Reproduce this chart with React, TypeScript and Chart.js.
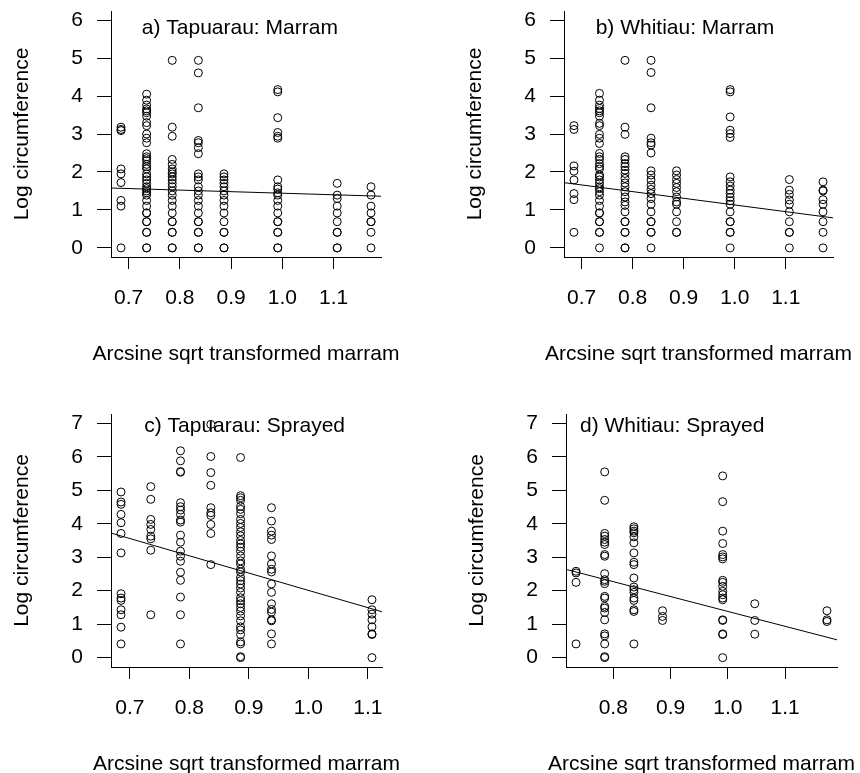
import { useEffect, useRef } from "react";
import { Chart, registerables } from "chart.js";

Chart.register(...registerables);

const FONT = "'Liberation Sans', Arial, Helvetica, sans-serif";
const FONT_SIZE = 21;

// ---- data -----------------------------------------------------------------
// x: arcsine-square-root transformed marram cover, one value per quadrat group
// y: log circumference of each plant in that group

const tapuarauMarramX = [0.685, 0.735, 0.785, 0.836, 0.886, 0.991, 1.107, 1.173];
const tapuarauMarramY = [
  [3.18, 3.12, 3.09, 2.08, 1.95, 1.72, 1.25, 1.1, 0],
  [4.05, 3.89, 3.76, 3.66, 3.61, 3.56, 3.47, 3.3, 3.22, 3.0, 2.89, 2.77, 2.48, 2.4, 2.35, 2.3, 2.2, 2.14, 2.08, 1.95, 1.87, 1.79, 1.7, 1.61, 1.56, 1.5, 1.45, 1.39, 1.25, 1.1, 0.92, 0.92, 0.69, 0.69, 0.41, 0.41, 0, 0],
  [4.94, 3.18, 2.94, 2.33, 2.2, 2.08, 2.0, 1.95, 1.87, 1.79, 1.7, 1.61, 1.5, 1.39, 1.25, 1.1, 0.92, 0.69, 0.69, 0.41, 0.41, 0, 0],
  [4.94, 4.61, 3.69, 2.83, 2.77, 2.64, 2.48, 1.95, 1.87, 1.79, 1.61, 1.5, 1.39, 1.25, 1.1, 0.92, 0.69, 0.69, 0.41, 0.41, 0, 0],
  [1.95, 1.87, 1.79, 1.7, 1.61, 1.5, 1.39, 1.25, 1.1, 0.92, 0.69, 0.41, 0.41, 0, 0],
  [4.17, 4.11, 3.43, 3.04, 2.94, 2.89, 1.79, 1.61, 1.55, 1.45, 1.39, 1.25, 1.1, 0.92, 0.69, 0.69, 0.41, 0.41, 0, 0],
  [1.7, 1.39, 1.3, 1.1, 0.92, 0.69, 0.41, 0.41, 0, 0],
  [1.61, 1.39, 1.1, 0.92, 0.69, 0.69, 0.41, 0],
];
const tapuarauMarramFit = { intercept: 1.85, slope: -0.41 };

const whitiauMarramX = [0.685, 0.735, 0.785, 0.836, 0.886, 0.991, 1.107, 1.173];
const whitiauMarramY = [
  [3.22, 3.12, 2.16, 2.02, 1.79, 1.43, 1.27, 0.41],
  [4.07, 3.89, 3.76, 3.67, 3.61, 3.56, 3.47, 3.28, 3.22, 2.99, 2.89, 2.75, 2.49, 2.4, 2.33, 2.22, 2.14, 2.08, 1.92, 1.87, 1.79, 1.7, 1.61, 1.56, 1.48, 1.39, 1.25, 1.1, 0.92, 0.92, 0.69, 0.69, 0.41, 0.41, 0],
  [4.94, 3.18, 2.99, 2.4, 2.33, 2.22, 2.14, 2.05, 1.96, 1.83, 1.71, 1.61, 1.48, 1.34, 1.21, 1.12, 0.95, 0.69, 0.69, 0.41, 0.41, 0, 0],
  [4.94, 4.62, 3.69, 2.89, 2.77, 2.71, 2.5, 2.03, 1.92, 1.79, 1.65, 1.54, 1.43, 1.3, 1.15, 0.95, 0.69, 0.69, 0.41, 0.41, 0],
  [2.03, 1.92, 1.8, 1.7, 1.59, 1.48, 1.34, 1.21, 1.15, 0.95, 0.69, 0.41, 0.41],
  [4.17, 4.11, 3.45, 3.1, 3.01, 2.91, 1.87, 1.74, 1.63, 1.52, 1.43, 1.33, 1.24, 1.15, 0.95, 0.69, 0.69, 0.41, 0.41, 0],
  [1.8, 1.52, 1.41, 1.26, 1.15, 0.95, 0.69, 0.41, 0.41, 0],
  [1.74, 1.52, 1.5, 1.27, 1.15, 0.95, 0.69, 0.41, 0],
];
const whitiauMarramFit = { intercept: 2.89, slope: -1.76 };

const tapuarauSprayedX = [0.685, 0.735, 0.785, 0.836, 0.886, 0.938, 1.107];
const tapuarauSprayedY = [
  [4.95, 4.65, 4.58, 4.28, 4.03, 3.71, 3.13, 1.91, 1.78, 1.71, 1.43, 1.28, 0.91, 0.41],
  [5.11, 4.73, 4.13, 3.98, 3.83, 3.63, 3.55, 3.21, 1.28],
  [6.18, 5.88, 5.56, 5.54, 4.63, 4.51, 4.41, 4.28, 4.11, 4.05, 3.66, 3.45, 3.18, 3.03, 2.88, 2.55, 2.31, 1.81, 1.28, 0.41],
  [6.97, 6.01, 5.53, 5.15, 4.48, 4.33, 4.25, 3.98, 3.71, 2.78],
  [5.98, 4.84, 4.78, 4.7, 4.52, 4.43, 4.3, 4.13, 4.01, 3.89, 3.76, 3.64, 3.5, 3.4, 3.3, 3.18, 3.04, 2.89, 2.8, 2.64, 2.56, 2.4, 2.3, 2.2, 2.08, 1.95, 1.79, 1.7, 1.61, 1.5, 1.39, 1.25, 1.1, 0.92, 0.83, 0.69, 0.47, 0.41, 0.03, 0],
  [4.48, 4.08, 3.78, 3.66, 3.53, 3.04, 2.8, 2.64, 2.56, 2.2, 1.95, 1.61, 1.44, 1.36, 1.13, 1.1, 0.71, 0.41],
  [1.73, 1.43, 1.3, 1.13, 0.92, 0.71, 0.69, 0],
];
const tapuarauSprayedFit = { intercept: 7.17, slope: -5.16 };

const whitiauSprayedX = [0.735, 0.785, 0.836, 0.886, 0.991, 1.047, 1.173];
const whitiauSprayedY = [
  [2.58, 2.53, 2.25, 0.41],
  [5.55, 4.7, 3.71, 3.63, 3.53, 3.45, 3.38, 3.08, 3.03, 2.51, 2.33, 2.28, 2.21, 1.83, 1.78, 1.53, 1.48, 1.35, 1.13, 0.71, 0.65, 0.41, 0.03, 0],
  [3.91, 3.85, 3.78, 3.73, 3.61, 3.43, 3.13, 2.85, 2.78, 2.38, 2.11, 2.03, 1.95, 1.78, 1.71, 1.43, 1.38, 0.41],
  [1.4, 1.23, 1.11],
  [5.43, 4.66, 3.78, 3.41, 3.08, 3.01, 2.95, 2.31, 2.25, 2.13, 1.98, 1.88, 1.78, 1.73, 1.13, 1.11, 0.71, 0.69, 0],
  [1.61, 1.11, 0.7],
  [1.4, 1.13, 1.08],
];
const whitiauSprayedFit = { intercept: 5.83, slope: -4.45 };

const marramTicksX = [0.7, 0.8, 0.9, 1.0, 1.1];
const sprayedTicksX = [0.7, 0.8, 0.9, 1.0, 1.1];
const whitiauSprayedTicksX = [0.8, 0.9, 1.0, 1.1];
const marramTicksY = [0, 1, 2, 3, 4, 5, 6];
const sprayedTicksY = [0, 1, 2, 3, 4, 5, 6, 7];

const X_TITLE = "Arcsine sqrt transformed marram";
const Y_TITLE = "Log circumference";

// ---- layout ---------------------------------------------------------------
const Y_AXIS_W = 111;
const X_AXIS_H = 110;
const PAD_TOP = 28; // leaves room for the y scale's own label padding
const PAD_RIGHT = 20;
const PAD_BOTTOM = 10;
const X_TITLE_OFFSET = 97; // distance from plot bottom to x title centre

type Box = { left: number; top: number; right: number; bottom: number };
type PanelSpec = {
  title: string;
  titleAt: [number, number];
  xs: number[];
  ys: number[][];
  fit: { intercept: number; slope: number };
  xTicks: number[];
  yTicks: number[];
  box: Box;
};

const panels: PanelSpec[] = [
  {
    title: "a) Tapuarau: Marram",
    titleAt: [0.7256, 5.78],
    xs: tapuarauMarramX,
    ys: tapuarauMarramY,
    fit: tapuarauMarramFit,
    xTicks: marramTicksX,
    yTicks: marramTicksY,
    box: { left: 111, top: 11, right: 381, bottom: 257 },
  },
  {
    title: "b) Whitiau: Marram",
    titleAt: [0.7275, 5.78],
    xs: whitiauMarramX,
    ys: whitiauMarramY,
    fit: whitiauMarramFit,
    xTicks: marramTicksX,
    yTicks: marramTicksY,
    box: { left: 564, top: 11, right: 833, bottom: 257 },
  },
  {
    title: "c) Tapuarau: Sprayed",
    titleAt: [0.724, 6.93],
    xs: tapuarauSprayedX,
    ys: tapuarauSprayedY,
    fit: tapuarauSprayedFit,
    xTicks: sprayedTicksX,
    yTicks: sprayedTicksY,
    box: { left: 111, top: 414, right: 382, bottom: 667 },
  },
  {
    title: "d) Whitiau: Sprayed",
    titleAt: [0.742, 6.93],
    xs: whitiauSprayedX,
    ys: whitiauSprayedY,
    fit: whitiauSprayedFit,
    xTicks: whitiauSprayedTicksX,
    yTicks: sprayedTicksY,
    box: { left: 566, top: 414, right: 837, bottom: 667 },
  },
];

function Panel({ spec }: { spec: PanelSpec }) {
  const ref = useRef<HTMLCanvasElement>(null);
  const { left, top, right, bottom } = spec.box;
  const cw = right - left + Y_AXIS_W + PAD_RIGHT;
  const ch = bottom - top + PAD_TOP + X_AXIS_H + PAD_BOTTOM;

  useEffect(() => {
    const points = spec.xs.flatMap((x, i) => spec.ys[i].map((y) => ({ x, y })));
    // R-style axis limits: data range widened by 4% on each side
    const xMin = Math.min(...spec.xs);
    const xMax = Math.max(...spec.xs);
    const xPad = (xMax - xMin) * 0.04;
    const lo = xMin - xPad;
    const hi = xMax + xPad;
    const yTop = spec.yTicks[spec.yTicks.length - 1];
    const yPad = yTop * 0.04;
    const fitLine = [lo, hi].map((x) => ({ x, y: spec.fit.intercept + spec.fit.slope * x }));

    // panel caption inside the plot, anchored in data units
    const titlePlugin = {
      id: "panelTitle",
      beforeDatasetsDraw(chart: Chart) {
        const { ctx, scales } = chart;
        const px = scales.x.getPixelForValue(spec.titleAt[0]);
        const py = scales.y.getPixelForValue(spec.titleAt[1]);
        ctx.save();
        ctx.font = `${FONT_SIZE}px ${FONT}`;
        ctx.fillStyle = "#000";
        ctx.textAlign = "left";
        ctx.textBaseline = "middle";
        ctx.fillText(spec.title, px, py);
        ctx.restore();
      },
    };

    // x-axis title drawn at full width (it is wider than the plot)
    const xTitlePlugin = {
      id: "xTitle",
      afterDraw(chart: Chart) {
        const { ctx, chartArea } = chart;
        ctx.save();
        ctx.font = `${FONT_SIZE}px ${FONT}`;
        ctx.fillStyle = "#000";
        ctx.textAlign = "center";
        ctx.textBaseline = "middle";
        ctx.fillText(X_TITLE, (chartArea.left + chartArea.right) / 2, chartArea.bottom + X_TITLE_OFFSET);
        ctx.restore();
      },
    };

    const tickFont = { family: FONT, size: FONT_SIZE };

    const chart = new Chart(ref.current as HTMLCanvasElement, {
      type: "scatter",
      data: {
        datasets: [
          {
            data: points,
            pointStyle: "circle",
            pointRadius: 4,
            pointBorderWidth: 1,
            pointBorderColor: "#000",
            pointBackgroundColor: "rgba(0,0,0,0)",
            borderColor: "#000",
            backgroundColor: "rgba(0,0,0,0)",
          },
          {
            data: fitLine,
            showLine: true,
            pointRadius: 0,
            borderColor: "#000",
            borderWidth: 1,
          },
        ],
      },
      options: {
        responsive: false,
        animation: false,
        events: [],
        devicePixelRatio: 1,
        layout: { padding: { top: PAD_TOP, right: PAD_RIGHT, bottom: PAD_BOTTOM, left: 0 } },
        plugins: { legend: { display: false }, tooltip: { enabled: false } },
        scales: {
          x: {
            type: "linear",
            min: lo,
            max: hi,
            afterFit: (s: any) => {
              s.height = X_AXIS_H;
            },
            afterBuildTicks: (s: any) => {
              s.ticks = spec.xTicks.map((v) => ({ value: v }));
            },
            grid: { drawOnChartArea: false, drawTicks: true, tickLength: 12, color: "#000", lineWidth: 1 },
            border: { display: true, color: "#000", width: 1 },
            ticks: {
              autoSkip: false,
              maxRotation: 0,
              padding: 17,
              color: "#000",
              font: tickFont,
              callback: (v: any) => Number(v).toFixed(1),
            },
            title: { display: false },
          },
          y: {
            type: "linear",
            min: -yPad,
            max: yTop + yPad,
            afterFit: (s: any) => {
              s.width = Y_AXIS_W;
            },
            afterBuildTicks: (s: any) => {
              s.ticks = spec.yTicks.map((v) => ({ value: v }));
            },
            grid: { drawOnChartArea: false, drawTicks: true, tickLength: 14, color: "#000", lineWidth: 1 },
            border: { display: true, color: "#000", width: 1 },
            ticks: {
              autoSkip: false,
              padding: 14,
              color: "#000",
              font: tickFont,
              callback: (v: any) => String(v),
            },
            title: {
              display: true,
              text: Y_TITLE,
              color: "#000",
              font: tickFont,
              padding: { top: 9.4, bottom: 0 },
            },
          },
        },
      },
      plugins: [titlePlugin, xTitlePlugin],
    } as any);

    return () => chart.destroy();
  }, [spec]);

  return (
    <canvas
      ref={ref}
      width={cw}
      height={ch}
      style={{
        position: "absolute",
        left: left - Y_AXIS_W,
        top: top - PAD_TOP,
        width: cw,
        height: ch,
      }}
    />
  );
}

export default function App() {
  return (
    <div
      style={{
        position: "absolute",
        left: 0,
        top: 0,
        width: 860,
        height: 773,
        background: "#fff",
        overflow: "hidden",
      }}
    >
      {panels.map((p) => (
        <Panel key={p.title} spec={p} />
      ))}
    </div>
  );
}
